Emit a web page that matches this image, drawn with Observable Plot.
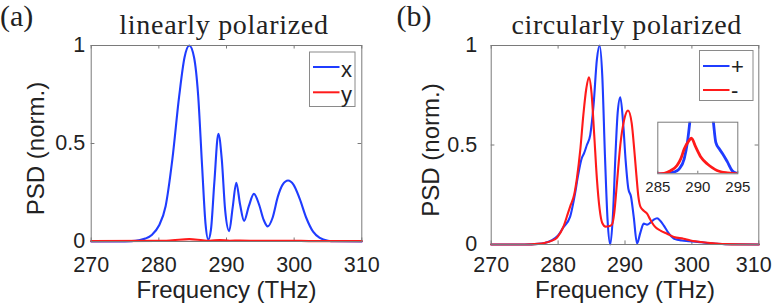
<!DOCTYPE html>
<html>
<head>
<meta charset="utf-8">
<script src="https://cdn.jsdelivr.net/npm/d3@7"></script>
<script src="https://cdn.jsdelivr.net/npm/@observablehq/plot@0.6"></script>
<style>
  html, body { margin: 0; padding: 0; background: #fff; }
  #wrap { position: relative; width: 773px; height: 307px; overflow: hidden; }
  #wrap > * { position: absolute; }
  svg text { font-family: "Liberation Sans", Arial, sans-serif; }
</style>
</head>
<body>
<div id="wrap"></div>
<script>
// ---------- data ----------
const xTicks = [270, 280, 290, 300, 310];
const yTicks = [0, 0.5, 1];
const insetTicks = [285, 290, 295];

// panel (a): linearly polarized
const aFreqX = [270, 274, 276, 277, 278, 279, 280, 281, 282, 283, 283.8, 284.5, 285.2, 285.8, 286.4, 286.9, 287.3, 287.7, 288.2, 288.8, 289.3, 289.8, 290.4, 290.9, 291.45, 292.0, 292.6, 293.3, 294.05, 294.8, 295.5, 296.1, 296.8, 297.6, 298.3, 299.1, 299.9, 300.8, 301.8, 302.8, 303.8, 305, 306, 310];
const aValX  = [0, 0, 0.002, 0.006, 0.015, 0.035, 0.08, 0.18, 0.42, 0.74, 0.94, 1.0, 0.94, 0.75, 0.38, 0.09, 0.01, 0.06, 0.3, 0.55, 0.42, 0.16, 0.053, 0.17, 0.30, 0.19, 0.105, 0.18, 0.243, 0.19, 0.11, 0.077, 0.12, 0.23, 0.29, 0.311, 0.29, 0.22, 0.12, 0.05, 0.018, 0.004, 0.001, 0];
const aFreqY = [270, 280, 282, 284.5, 286.5, 287.5, 289, 290.5, 292, 295, 299, 303, 310];
const aValY  = [0.002, 0.003, 0.006, 0.012, 0.006, 0.004, 0.008, 0.004, 0.005, 0.003, 0.004, 0.002, 0.002];

// panel (b): circularly polarized
const bFreqPlus = [270, 275, 277, 278, 279, 280, 280.8, 281.8, 282.5, 283.0, 283.5, 283.9, 284.3, 284.8, 285.3, 285.8, 286.2, 286.6, 287.0, 287.4, 287.8, 288.2, 288.6, 288.9, 289.3, 289.7, 290.1, 290.5, 290.9, 291.3, 291.8, 292.3, 292.8, 293.3, 293.8, 294.3, 294.8, 295.3, 295.8, 296.3, 296.8, 297.3, 297.8, 298.5, 299.5, 300.5, 301.5, 302.5, 303.5, 305, 310];
const bValPlus  = [0, 0, 0.003, 0.008, 0.02, 0.045, 0.087, 0.14, 0.25, 0.35, 0.43, 0.46, 0.50, 0.55, 0.70, 0.93, 1.0, 0.85, 0.45, 0.12, 0.0, 0.15, 0.47, 0.66, 0.74, 0.62, 0.42, 0.28, 0.24, 0.14, 0.005, 0.06, 0.105, 0.10, 0.11, 0.125, 0.132, 0.118, 0.095, 0.068, 0.045, 0.03, 0.024, 0.02, 0.017, 0.014, 0.011, 0.007, 0.004, 0.001, 0];
const bFreqMinus = [270, 275, 277, 278, 279, 279.85, 280.8, 281.5, 281.9, 282.4, 282.8, 283.3, 283.8, 284.2, 284.6, 285.0, 285.4, 285.8, 286.2, 286.6, 287.1, 287.6, 288.05, 288.4, 288.7, 289.0, 289.3, 289.9, 290.45, 291.0, 291.4, 291.7, 292.0, 292.3, 292.8, 293.3, 293.7, 294.0, 294.6, 295.3, 296.3, 297.3, 298.75, 299.8, 300.75, 302, 303.7, 305, 310];
const bValMinus  = [0, 0, 0.003, 0.008, 0.018, 0.035, 0.09, 0.16, 0.2, 0.25, 0.33, 0.47, 0.66, 0.78, 0.84, 0.76, 0.55, 0.33, 0.18, 0.108, 0.09, 0.092, 0.1, 0.16, 0.27, 0.39, 0.5, 0.63, 0.673, 0.61, 0.47, 0.35, 0.24, 0.19, 0.17, 0.155, 0.13, 0.112, 0.085, 0.07, 0.054, 0.038, 0.029, 0.02, 0.015, 0.01, 0.005, 0.002, 0];

// inset of panel (b), 285-295 THz (relative units)
const inFreqPlus = [285, 286, 286.6, 287.4, 287.7, 288.3, 288.7, 289.0, 289.3, 290.5, 291.6, 291.95, 292.25, 292.7, 293.1, 293.7, 294.3, 294.7, 295];
const inValPlus  = [0, 0.005, 0.02, 0.06, 0.1, 0.29, 0.61, 1.0, 1.5, 3, 1.5, 1.0, 0.61, 0.48, 0.39, 0.23, 0.06, 0.02, 0.01];
const inFreqMinus = [285, 285.8, 286.6, 287.4, 287.9, 288.3, 288.9, 289.2, 289.75, 290.4, 291.2, 291.8, 292.4, 293.0, 293.7, 294.3, 295];
const inValMinus  = [0, 0.01, 0.06, 0.16, 0.3, 0.48, 0.645, 0.69, 0.515, 0.32, 0.19, 0.12, 0.065, 0.035, 0.02, 0.01, 0.005];

const BLUE = "#1f3cff", RED = "#ff1a1a", FRAME = "#7a7a7a", INK = "#222";

const toRows = (f, v) => f.map((d, i) => ({f: d, v: v[i]}));

function panel({series, width, mL, mR, mT, mB, xPad, yPad, xlabDy, ylabDx, lastDx}) {
  const inner = xTicks.slice(0, -1), last = xTicks.slice(-1);
  return Plot.plot({
    width, height: 307,
    marginLeft: mL, marginRight: mR, marginTop: mT, marginBottom: mB,
    style: {fontFamily: "Liberation Sans, Arial, sans-serif", fontSize: "21.5px", color: INK, background: "transparent", overflow: "visible"},
    x: {domain: [270, 310]},
    y: {domain: [0, 1]},
    marks: [
      Plot.axisX({ticks: inner, tickSize: 0, tickPadding: xPad, label: null, tickFormat: d => String(d)}),
      Plot.axisX({ticks: last, tickSize: 0, tickPadding: xPad, label: null, dx: lastDx, tickFormat: d => String(d)}),
      Plot.axisY({ticks: yTicks, tickSize: 0, tickPadding: yPad, label: null, tickFormat: d => String(d)}),
      Plot.ruleX(xTicks, {y1: 0, y2: 0.018, stroke: FRAME}),
      Plot.ruleX(xTicks, {y1: 0.982, y2: 1, stroke: FRAME}),
      Plot.ruleY(yTicks, {x1: 270, x2: 270.55, stroke: FRAME}),
      Plot.ruleY(yTicks, {x1: 309.45, x2: 310, stroke: FRAME}),
      ...series.map(s => Plot.lineY(toRows(s.f, s.v), {x: "f", y: "v", stroke: s.color, strokeWidth: 2.1, curve: "monotone-x"})),
      Plot.frame({stroke: FRAME, strokeWidth: 1}),
      Plot.text(["Frequency (THz)"], {text: d => d, frameAnchor: "bottom", lineAnchor: "middle", textAnchor: "middle", dy: xlabDy, fontSize: 24, fill: INK}),
      Plot.text(["PSD (norm.)"], {text: d => d, frameAnchor: "left", lineAnchor: "middle", textAnchor: "middle", rotate: -90, dx: ylabDx, dy: 5, fontSize: 24, fill: INK})
    ]
  });
}

const wrap = document.getElementById("wrap");

const pa = panel({
  series: [{f: aFreqX, v: aValX, color: BLUE}, {f: aFreqY, v: aValY, color: RED}],
  width: 390, mL: 90.7, mR: 28.7, mT: 45, mB: 66, xPad: 15.7, yPad: 6, xlabDy: 49, ylabDx: -55, lastDx: 0
});
pa.style.left = "0px"; pa.style.top = "0px";
wrap.appendChild(pa);

const pb = panel({
  series: [{f: bFreqPlus, v: bValPlus, color: BLUE}, {f: bFreqMinus, v: bValMinus, color: RED}],
  width: 383, mL: 100.7, mR: 14.7, mT: 45, mB: 63, xPad: 12.7, yPad: 14, xlabDy: 46, ylabDx: -60, lastDx: -5
});
pb.style.left = "390px"; pb.style.top = "0px";
wrap.appendChild(pb);

const inset = Plot.plot({
  width: 110, height: 90,
  marginLeft: 17.3, marginRight: 12.7, marginTop: 11.7, marginBottom: 26.7,
  style: {fontFamily: "Liberation Sans, Arial, sans-serif", fontSize: "15px", color: INK, background: "transparent", overflow: "visible"},
  x: {domain: [285, 295]},
  y: {domain: [0, 1], axis: null},
  marks: [
    Plot.frame({fill: "white", stroke: "none"}),
    Plot.axisX({ticks: insetTicks, tickSize: 0, tickPadding: 7.5, label: null, tickFormat: d => String(d)}),
    Plot.ruleX(insetTicks, {y1: 0, y2: 0.05, stroke: FRAME}),
    Plot.lineY(toRows(inFreqPlus, inValPlus), {x: "f", y: "v", stroke: BLUE, strokeWidth: 2.8, curve: "monotone-x", clip: true}),
    Plot.lineY(toRows(inFreqMinus, inValMinus), {x: "f", y: "v", stroke: RED, strokeWidth: 2.8, curve: "monotone-x", clip: true}),
    Plot.frame({stroke: FRAME, strokeWidth: 1})
  ]
});
inset.style.left = "640px"; inset.style.top = "110px";
wrap.appendChild(inset);

// ---------- titles & legends overlay ----------
const NS = "http://www.w3.org/2000/svg";
const ov = document.createElementNS(NS, "svg");
ov.setAttribute("width", 773); ov.setAttribute("height", 307);
ov.style.left = "0px"; ov.style.top = "0px"; ov.style.pointerEvents = "none";
wrap.appendChild(ov);
function el(tag, attrs, text) {
  const e = document.createElementNS(NS, tag);
  for (const k in attrs) e.setAttribute(k, attrs[k]);
  if (text != null) e.textContent = text;
  ov.appendChild(e);
  return e;
}
const serif = "Liberation Serif, Times New Roman, serif";
el("text", {x: 0, y: 26.3, "font-size": 30, fill: INK, style: `font-family:${serif}`}, "(a)");
el("text", {x: 396.5, y: 26.3, "font-size": 30, fill: INK, style: `font-family:${serif}`}, "(b)");
el("text", {x: 224, y: 33.5, "text-anchor": "middle", "font-size": 28, fill: INK, "letter-spacing": 0.7, style: `font-family:${serif}`}, "linearly polarized");
el("text", {x: 626.7, y: 33.5, "text-anchor": "middle", "font-size": 28, fill: INK, "letter-spacing": 0.6, style: `font-family:${serif}`}, "circularly polarized");

function legend(box, rows) {
  el("rect", {x: box.x, y: box.y, width: box.w, height: box.h, fill: "white", stroke: "#8a8a8a", "stroke-width": 1});
  rows.forEach(r => {
    el("line", {x1: box.x + 3.5, x2: box.x + 30, y1: r.ly, y2: r.ly, stroke: r.color, "stroke-width": 2});
    el("text", {x: box.x + 31.5, y: r.ty, "font-size": 22, fill: INK}, r.label);
  });
}
const legendA = ["x", "y"], legendB = ["+", "-"];
legend({x: 309.5, y: 52, w: 45.5, h: 54.5}, [
  {label: legendA[0], color: BLUE, ly: 67, ty: 76.5},
  {label: legendA[1], color: RED, ly: 92.3, ty: 101.5}
]);
legend({x: 699.5, y: 50.5, w: 53.5, h: 50}, [
  {label: legendB[0], color: BLUE, ly: 66, ty: 74.4},
  {label: legendB[1], color: RED, ly: 90, ty: 97.6}
]);
</script>
</body>
</html>
